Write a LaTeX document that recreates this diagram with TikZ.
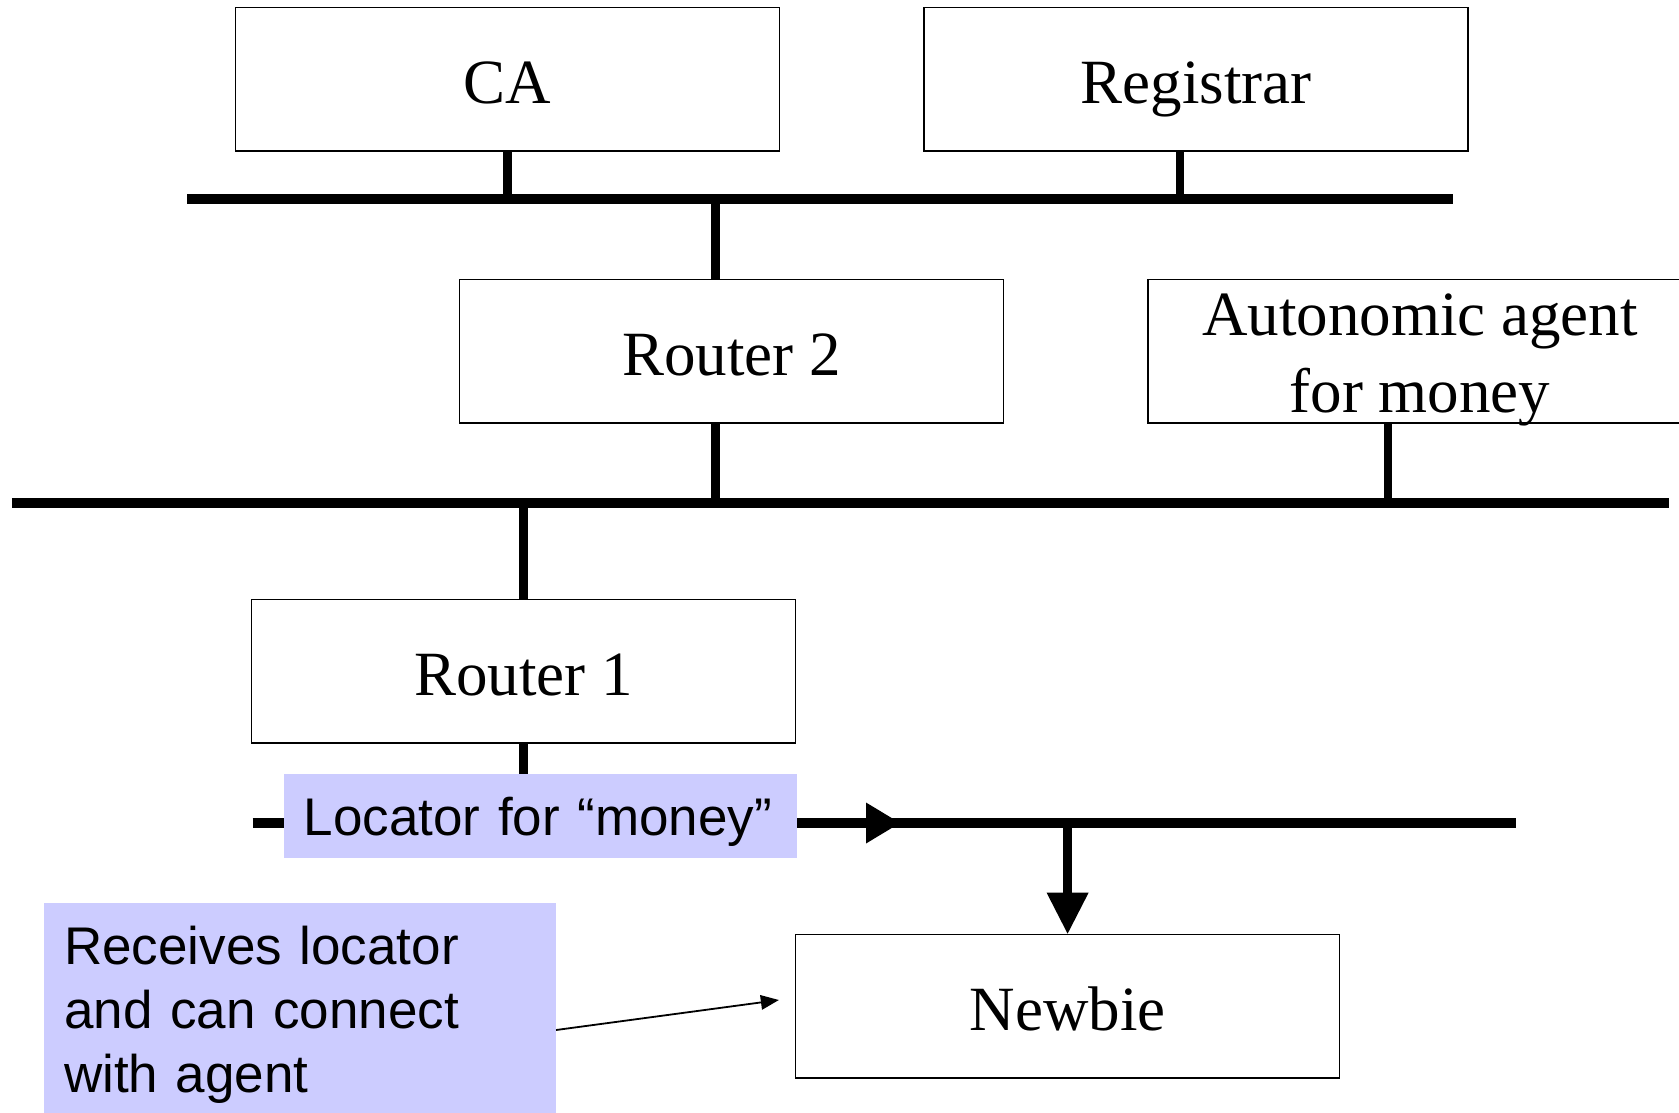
\documentclass[tikz,border=0pt]{standalone}
\usepackage{fontspec}
\setmainfont{Liberation Serif}
\newfontfamily\notesans{Liberation Sans}
\usetikzlibrary{arrows.meta,decorations.markings,calc}
\definecolor{notefill}{HTML}{CCCCFF}

\begin{document}
\begin{tikzpicture}[x=1pt,y=-1pt,
  unitbox/.style={draw=black, line width=1.5pt, fill=white,
    minimum width=544pt, minimum height=143.5pt, inner sep=0pt,
    text height=48pt, text depth=0pt, font=\fontsize{63}{76}\selectfont},
  unittext/.style={anchor=base, inner sep=0pt, font=\fontsize{63}{76}\selectfont},
  bus/.style={line width=9.5pt},
  stem/.style={line width=8.5pt},
  note/.style={fill=notefill, inner xsep=20pt, align=left,
    font=\notesans\fontsize{53}{64}\selectfont},
  drop/.style={line width=9.5pt, -{Triangle[length=41pt,width=42pt,line width=0pt]}},
  pointer/.style={line width=1.8pt, -{Triangle[length=18pt,width=15pt,line width=0pt]}}
]
\useasboundingbox (0,0) rectangle (1679,1112);
\clip (0,0) rectangle (1679,1112);

% upper segment: CA and Registrar
\node[unitbox] (ca)  at (507.5,79.3)  {CA};
\node[unitbox] (reg) at (1196,79.3)   {Registrar};
\coordinate (busAL) at (187.4,199);
\coordinate (busAR) at (1452.6,199);
\coordinate (jReg) at (1180,199);
\coordinate (jR2up) at (715.3,199);
\draw[bus] (busAL) -- (busAR);
\draw[stem] (ca.south) -- (ca.south |- busAL);
\draw[stem] (reg.south -| jReg) -- (jReg);

% middle segment: Router 2 and the agent
\node[unitbox] (r2) at (731.4,351.3) {Router 2};
\node[unitbox] (agent) at (1420,351.3) {};
\node[unittext] (agentA) at (1420,335) {Autonomic agent};
\node[unittext] (agentB) at (1420,412) {for money};
\coordinate (busBL) at (11.8,503);
\coordinate (busBR) at (1669.4,503);
\coordinate (jR2dn) at (715.3,503);
\coordinate (jAgent) at (1388.2,503);
\coordinate (jR1) at (523.7,503);
\draw[stem] (jR2up) -- (r2.north -| jR2up);
\draw[bus] (busBL) -- (busBR);
\draw[stem] (r2.south -| jR2dn) -- (jR2dn);
\draw[stem] (agent.south -| jAgent) -- (jAgent);

% lower segment: Router 1, the locator announcement and the newbie
\node[unitbox] (r1) at (523.7,671.3) {Router 1};
\draw[stem] (jR1) -- (r1.north);
\coordinate (busCL) at (252.7,823);
\coordinate (busCR) at (1516,823);
\draw[bus, postaction={decorate}, decoration={markings,
    mark=at position 647.3pt with {\fill (-34pt,-20.5pt) -- (0pt,0pt) -- (-34pt,20.5pt) -- cycle;}}]
  (busCL) -- (busCR);
\draw[stem] (r1.south) -- (r1.south |- busCL);
\node[note, text width=473pt, inner ysep=0pt, minimum height=83.5pt,
      text height=38pt, text depth=0pt] (loc) at (540.2,816) {Locator for “money”};

\node[unitbox] (newbie) at (1067.6,1006.2) {Newbie};
\coordinate (dropTop) at (newbie.north |- busCL);
\draw[drop] (dropTop) -- (newbie.north);

% annotation for the newbie
\node[note, anchor=north west, text width=471.8pt, inner ysep=23.3pt] (callout) at (43.9,902.7)
  {Receives locator\\and can connect\\with agent};
\coordinate (tail) at ($(callout.north east)+(0,127.3)$);
\coordinate (tip) at ($(newbie.west)+(-16,-6.2)$);
\draw[pointer] (tail) -- (tip);
\end{tikzpicture}
\end{document}
